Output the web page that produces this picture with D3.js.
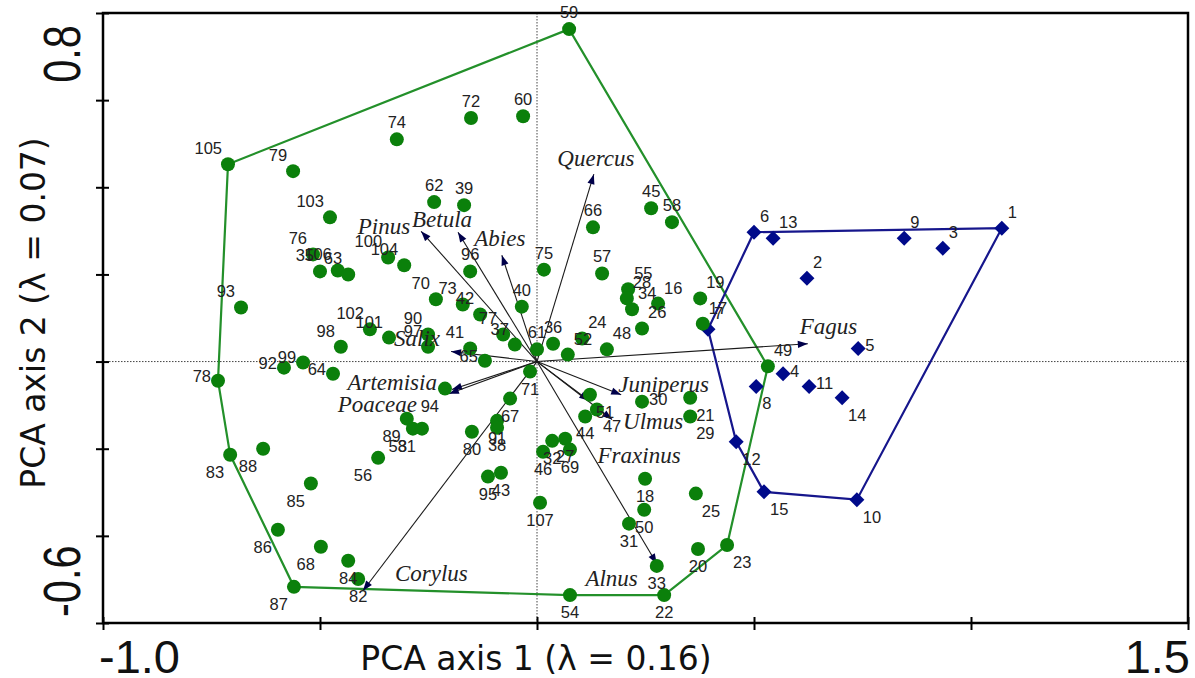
<!DOCTYPE html>
<html>
<head>
<meta charset="utf-8">
<script src="https://cdn.jsdelivr.net/npm/d3@7/dist/d3.min.js"></script>
<style>
  body { margin: 0; background: #fff; }
  svg { display: block; }
</style>
</head>
<body>
<svg id="chart" width="1195" height="678"></svg>
<script>
// ---- PCA sample scores: group A (circles) ----
const groupAIds = [59,105,79,74,72,60,103,62,39,45,58,66,76,35,106,63,100,104,96,75,
  57,93,70,73,42,77,37,40,61,36,24,52,48,26,16,55,28,34,19,17,
  102,101,98,90,97,41,65,92,99,64,78,94,89,53,81,56,83,88,85,86,
  68,84,82,87,54,22,33,31,50,18,25,20,23,107,95,43,46,32,27,69,
  91,38,67,80,71,44,47,51,30,21,29,49];
const groupAX = [0.074,-0.712,-0.562,-0.323,-0.152,-0.032,-0.477,-0.237,-0.168,0.263,0.311,0.129,-0.516,-0.500,-0.459,-0.435,-0.343,-0.306,-0.154,0.016,
  0.150,-0.682,-0.233,-0.171,-0.131,-0.078,-0.051,-0.035,0.000,0.037,0.104,0.071,0.161,0.242,0.279,0.210,0.207,0.219,0.376,0.382,
  -0.385,-0.341,-0.452,-0.251,-0.251,-0.154,-0.120,-0.583,-0.539,-0.470,-0.735,-0.212,-0.300,-0.286,-0.265,-0.366,-0.707,-0.631,-0.521,-0.597,
  -0.498,-0.435,-0.412,-0.560,0.076,0.293,0.276,0.212,0.247,0.249,0.366,0.371,0.438,0.007,-0.113,-0.083,0.014,0.035,0.065,0.076,
  -0.092,-0.092,-0.062,-0.150,-0.016,0.111,0.138,0.122,0.242,0.353,0.353,0.532];
const groupAY = [0.763,0.453,0.437,0.510,0.559,0.563,0.331,0.366,0.359,0.352,0.320,0.308,0.246,0.207,0.209,0.200,0.239,0.221,0.207,0.211,
  0.202,0.124,0.143,0.131,0.108,0.062,0.039,0.126,0.028,0.041,0.053,0.016,0.028,0.076,0.133,0.166,0.145,0.120,0.145,0.087,
  0.074,0.055,0.034,0.062,0.034,0.030,0.002,-0.014,-0.002,-0.028,-0.044,-0.062,-0.131,-0.154,-0.154,-0.221,-0.214,-0.200,-0.280,-0.386,
  -0.425,-0.457,-0.499,-0.517,-0.536,-0.536,-0.469,-0.372,-0.340,-0.269,-0.303,-0.430,-0.421,-0.324,-0.264,-0.255,-0.207,-0.182,-0.177,-0.202,
  -0.136,-0.152,-0.085,-0.161,-0.023,-0.126,-0.110,-0.076,-0.092,-0.083,-0.126,-0.011];

// ---- PCA sample scores: group B (diamonds) ----
const groupBIds = [1,2,3,4,5,6,7,8,9,10,11,12,13,14,15];
const groupBX = [1.071,0.622,0.935,0.567,0.740,0.500,0.394,0.505,0.846,0.737,0.627,0.459,0.544,0.703,0.523];
const groupBY = [0.306,0.191,0.260,-0.028,0.030,0.297,0.074,-0.057,0.283,-0.317,-0.057,-0.184,0.283,-0.083,-0.299];

// Convex hull vertices of each group, by sample number
const hullA = [59,105,78,83,87,54,22,23,49];
const hullB = [6,1,10,15,12,7];

// ---- Pollen taxa (biplot arrows) ----
const taxa   = ["Quercus","Betula","Pinus","Abies","Salix","Artemisia","Poaceae","Corylus","Alnus","Fraxinus","Juniperus","Ulmus","Fagus"];
const taxaX  = [0.131,-0.182,-0.267,-0.081,-0.198,-0.196,-0.203,-0.401,0.276,0.120,0.194,0.173,0.624];
const taxaY  = [0.430,0.297,0.299,0.244,0.023,-0.064,-0.074,-0.526,-0.464,-0.090,-0.076,-0.133,0.041];

// ---- Axes ----
const xDomain = [-1.0, 1.5];
const yDomain = [-0.6, 0.8];
const xTickValues = [-1.0,-0.5,0,0.5,1.0,1.5];
const yTickValues = [-0.6,-0.4,-0.2,0,0.2,0.4,0.6,0.8];
const xTickLabels = ["-1.0","1.5"];
const yTickLabels = ["-0.6","0.8"];
const xTitle = "PCA axis 1 (λ = 0.16)";
const yTitle = "PCA axis 2 (λ = 0.07)";

// ---- layout ----
const L = 103, R = 1188, T = 13, B = 623;
const svg = d3.select("#chart");
const x = d3.scaleLinear().domain(xDomain).range([L, R]);
const y = d3.scaleLinear().domain(yDomain).range([B, T]);

const GREEN = "#0b800b", GREEN_LINE = "#23902a", BLUE = "#000a8a", BLUE_LINE = "#16168c";
const LABEL_FONT = "'Liberation Sans', Arial, sans-serif";
const TITLE_FONT = "'DejaVu Sans', Verdana, sans-serif";

// zero lines
svg.append("line").attr("x1", x(0)).attr("x2", x(0)).attr("y1", T).attr("y2", B)
  .attr("stroke", "#444").attr("stroke-width", 1).attr("stroke-dasharray", "1.5,1.5");
svg.append("line").attr("x1", L).attr("x2", R).attr("y1", y(0)).attr("y2", y(0))
  .attr("stroke", "#444").attr("stroke-width", 1).attr("stroke-dasharray", "1.5,1.5");

// frame
svg.append("rect").attr("x", L).attr("y", T).attr("width", R - L).attr("height", B - T)
  .attr("fill", "none").attr("stroke", "#000").attr("stroke-width", 2.5);

// crossing ticks: one axis outward, one inward
function crossAxis(gen, tr) {
  const g = svg.append("g").attr("transform", tr).call(gen);
  g.select(".domain").remove();
  g.selectAll(".tick text").remove();
  g.selectAll(".tick line").attr("stroke", "#000").attr("stroke-width", 2);
}
crossAxis(d3.axisBottom(x).tickValues(xTickValues).tickSize(7), `translate(0,${B})`);
crossAxis(d3.axisBottom(x).tickValues(xTickValues).tickSize(-6), `translate(0,${B})`);
crossAxis(d3.axisLeft(y).tickValues(yTickValues).tickSize(7), `translate(${L},0)`);
crossAxis(d3.axisLeft(y).tickValues(yTickValues).tickSize(-6), `translate(${L},0)`);

// tick labels only at the axis ends
svg.append("text").attr("x", x(xDomain[0]) - 4).attr("y", 673)
  .attr("font-family", LABEL_FONT).attr("font-size", 47).attr("fill", "#111")
  .attr("text-anchor", "start").text(xTickLabels[0]);
svg.append("text").attr("x", x(xDomain[1]) + 2).attr("y", 673)
  .attr("font-family", LABEL_FONT).attr("font-size", 47).attr("fill", "#111")
  .attr("text-anchor", "end").text(xTickLabels[1]);
svg.append("text").attr("transform", `translate(80,${y(yDomain[0]) - 6}) rotate(-90) scale(0.8,1)`)
  .attr("font-family", LABEL_FONT).attr("font-size", 52).attr("fill", "#111")
  .attr("text-anchor", "start").text(yTickLabels[0]);
svg.append("text").attr("transform", `translate(80,${y(yDomain[1]) + 12}) rotate(-90) scale(0.8,1)`)
  .attr("font-family", LABEL_FONT).attr("font-size", 52).attr("fill", "#111")
  .attr("text-anchor", "end").text(yTickLabels[1]);

// axis titles
svg.append("text").attr("x", 536).attr("y", 670)
  .attr("font-family", TITLE_FONT).attr("font-size", 33).attr("fill", "#111")
  .attr("text-anchor", "middle").text(xTitle);
svg.append("text").attr("transform", "translate(45,313) rotate(-90)")
  .attr("font-family", TITLE_FONT).attr("font-size", 33).attr("fill", "#111")
  .attr("text-anchor", "middle").text(yTitle);

// sample records
const groupA = groupAIds.map((id, i) => ({ id, x: groupAX[i], y: groupAY[i] }));
const groupB = groupBIds.map((id, i) => ({ id, x: groupBX[i], y: groupBY[i] }));
const byIdA = new Map(groupA.map(d => [d.id, d]));
const byIdB = new Map(groupB.map(d => [d.id, d]));

// hulls
const line = d3.line().x(d => x(d.x)).y(d => y(d.y)).curve(d3.curveLinearClosed);
svg.append("path").datum(hullA.map(id => byIdA.get(id)))
  .attr("d", line).attr("fill", "none").attr("stroke", GREEN_LINE).attr("stroke-width", 2.2);
svg.append("path").datum(hullB.map(id => byIdB.get(id)))
  .attr("d", line).attr("fill", "none").attr("stroke", BLUE_LINE).attr("stroke-width", 2.2);

// taxa arrows
const defs = svg.append("defs");
defs.append("marker").attr("id", "head").attr("viewBox", "0 -4 10 8")
  .attr("refX", 10).attr("refY", 0).attr("markerWidth", 11).attr("markerHeight", 8)
  .attr("markerUnits", "userSpaceOnUse").attr("orient", "auto")
  .append("path").attr("d", "M0,-3.6L10,0L0,3.6Z").attr("fill", "#00004a");

const taxaData = taxa.map((name, i) => ({ name, x: taxaX[i], y: taxaY[i] }));
svg.append("g").selectAll("line").data(taxaData).join("line")
  .attr("x1", x(0)).attr("y1", y(0))
  .attr("x2", d => x(d.x)).attr("y2", d => y(d.y))
  .attr("stroke", "#1a1a1a").attr("stroke-width", 1.1)
  .attr("marker-end", "url(#head)");

// group B diamonds
svg.append("g").selectAll("path").data(groupB).join("path")
  .attr("transform", d => `translate(${x(d.x)},${y(d.y)})`)
  .attr("d", "M0,-7.5L7.5,0L0,7.5L-7.5,0Z").attr("fill", BLUE);

// group A circles
svg.append("g").selectAll("circle").data(groupA).join("circle")
  .attr("cx", d => x(d.x)).attr("cy", d => y(d.y)).attr("r", 7).attr("fill", GREEN);

// sample number placement around each symbol
const side = {
  n:  [59,74,72,60,62,39,45,58,66,96,75,57,40,61,36],
  nw: [105,79,103,76,35,106,63,100,104,93,70,73,42,77,37,102,101,98,90,97,41],
  ne: [24,52,48,26,16,55,28,34,19,17,1,6,13,9,3,2,7,49],
  w:  [65,92,99,64,78],
  sw: [94,89,53,81,56,83,88,85,86,68,87],
  s:  [84,82,54,22,33,31,50,18,20,107,95,43,46,32,27,69,91,38,67,80,71,44],
  se: [25,23,51,47,21,29,14,8,12,15,10],
  e:  [30,5,4,11]
};
const offsets = {
  n:  [0, -17, "middle"], s: [0, 17, "middle"],
  nw: [-6, -16, "end"],   ne: [6, -16, "start"],
  sw: [-6, 17, "end"],    se: [6, 17, "start"],
  w:  [-7, -5, "end"],    e:  [7, -3, "start"]
};
const sideOf = new Map();
Object.entries(side).forEach(([k, ids]) => ids.forEach(id => sideOf.set(id, k)));

const allSamples = groupA.concat(groupB);
svg.append("g").selectAll("text").data(allSamples).join("text")
  .each(function (d) {
    const o = offsets[sideOf.get(d.id) || "n"];
    d3.select(this).attr("x", x(d.x) + o[0]).attr("y", y(d.y) + o[1]).attr("text-anchor", o[2]);
  })
  .attr("dy", "0.36em")
  .attr("font-family", LABEL_FONT).attr("font-size", 16.5).attr("fill", "#222")
  .text(d => d.id);

// taxa names, placed relative to arrow tips
const taxaLabel = {
  Quercus:   [2, -16, "middle"],
  Betula:    [-16, -13, "middle"],
  Pinus:     [-11, -5, "end"],
  Abies:     [-2, -17, "middle"],
  Salix:     [-11, -13, "end"],
  Artemisia: [-15, -7, "end"],
  Poaceae:   [-32, 11, "end"],
  Corylus:   [32, -17, "start"],
  Alnus:     [-19, 15, "end"],
  Fraxinus:  [50, 55, "middle"],
  Juniperus: [-3, -10, "start"],
  Ulmus:     [11, 2, "start"],
  Fagus:     [-8, -17, "start"]
};
svg.append("g").selectAll("text").data(taxaData).join("text")
  .attr("x", d => x(d.x) + taxaLabel[d.name][0])
  .attr("y", d => y(d.y) + taxaLabel[d.name][1])
  .attr("text-anchor", d => taxaLabel[d.name][2])
  .attr("dy", "0.32em")
  .attr("font-family", "'Liberation Serif', 'Times New Roman', serif")
  .attr("font-style", "italic").attr("font-size", 23).attr("fill", "#222")
  .text(d => d.name);
</script>
</body>
</html>
